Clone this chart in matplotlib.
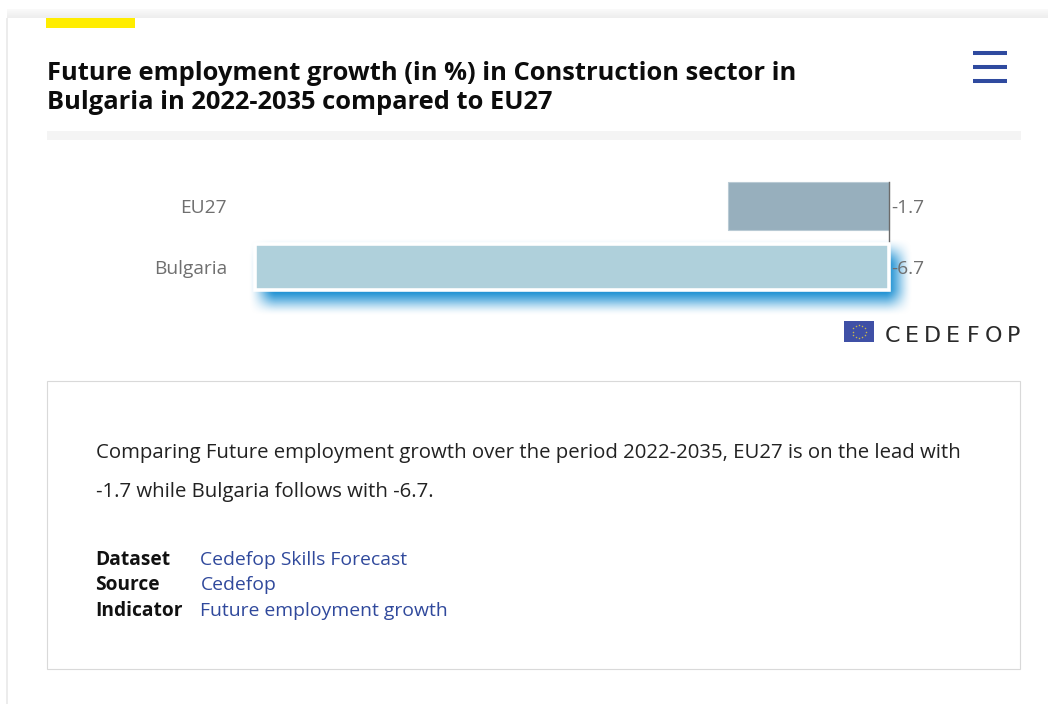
import numpy as np
import matplotlib
matplotlib.use("Agg")
import matplotlib.pyplot as plt
from matplotlib.patches import Rectangle

plt.rcParams['font.family'] = ['Open Sans', 'DejaVu Sans']

countries = ['EU27', 'Bulgaria']
growth = [-1.7, -6.7]
bar_colors = ['#97afbd', '#afd0db']
title_lines = ['Future employment growth (in %) in Construction sector in',
               'Bulgaria in 2022-2035 compared to EU27']
summary_lines = ['Comparing Future employment growth over the period 2022-2035, EU27 is on the lead with',
                 '-1.7 while Bulgaria follows with -6.7.']
meta_keys = ['Dataset', 'Source', 'Indicator']
meta_values = ['Cedefop Skills Forecast', 'Cedefop', 'Future employment growth']
wordmark = 'CEDEFOP'

W, H = 1048, 704
X0, PX_PER_UNIT = 889, 94.6
Y0, ROW = 206, 61

fig = plt.figure(figsize=(W / 100, H / 100), dpi=100, facecolor='white')

# page furniture, in pixels from the top left
page = fig.add_axes([0, 0, 1, 1], zorder=1)
page.set_xlim(0, W)
page.set_ylim(H, 0)
page.axis('off')

def box(x0, y0, x1, y1, **kw):
    page.add_patch(Rectangle((x0, y0), x1 - x0, y1 - y0, linewidth=kw.pop('linewidth', 0), **kw))

band = np.linspace(0.975, 0.93, 9)[:, None]
page.imshow(band, cmap='gray', vmin=0, vmax=1, extent=(7, W, 18, 9), aspect='auto', zorder=1)
page.set_xlim(0, W)
page.set_ylim(H, 0)
box(6, 18, 8, H, facecolor='#ececec')
box(46, 18, 135, 28, facecolor='#ffed00')
box(47, 131, 1021, 140, facecolor='#f4f4f4')
box(47, 380.5, 1020, 669, facecolor='none', edgecolor='#d9d9d9', linewidth=0.8)

for y in [53, 67, 81]:
    page.plot([973, 1007], [y, y], color='#2f4a9f', lw=2.9, solid_capstyle='butt')

for i, line in enumerate(title_lines):
    page.text(47, 73.5 + i * 28.7, line, fontsize=18.33, fontweight='bold', color='#0c0c0c', va='center')

for i, line in enumerate(summary_lines):
    page.text(96, 453 + i * 39, line, fontsize=14.67, color='#222222', va='center')

for i, (k, v) in enumerate(zip(meta_keys, meta_values)):
    page.text(95.5, 560 + i * 25.5, k, fontsize=13.8, fontweight='bold', color='#111111', va='center')
    page.text(200.5, 560 + i * 25.5, v, fontsize=13.95, color='#30499c', va='center')

# EU flag and wordmark
box(844, 321, 874, 342, facecolor='#3f50a6')
angles = np.arange(12) * np.pi / 6
page.scatter(859 + 6.5 * np.cos(angles), 331.5 + 6.5 * np.sin(angles), s=1.2, color='#c9b84a', linewidths=0)
for i, letter in enumerate(wordmark):
    page.text(892 + i * 20.3, 335.5, letter, fontsize=16, family=['DejaVu Sans'],
              color='#2a2a2a', va='center', ha='center')

# bar chart, scales set so the zero line and the rows land where they should
ax = fig.add_axes([0, 0, 1, 1], zorder=2)
ax.patch.set_alpha(0)
ax.set_xlim(-X0 / PX_PER_UNIT, (W - X0) / PX_PER_UNIT)
ax.set_ylim((H - Y0) / ROW, -Y0 / ROW)
ax.axis('off')

ypos = np.arange(len(countries))
bars = ax.barh(ypos, growth, height=[0.79, 0.75], color=bar_colors, zorder=3)
bars[0].set_edgecolor('#b9cad4')
bars[0].set_linewidth(0.8)

# highlighted row: white outline plus a blurred blue shadow behind it
hl = bars[1]
hl.set_edgecolor('white')
hl.set_linewidth(2.6)
hl.set_zorder(4)
x_left = ax.transData.transform((growth[1], 0))[0]
x_right = ax.transData.transform((0, 0))[0]

xx = np.arange(W) + 0.5
yy = np.arange(H) + 0.5

def soft_edge(v, a, b, s):
    # box profile smoothed over s pixels
    return np.clip((v - a) / s + 0.5, 0, 1) * np.clip((b - v) / s + 0.5, 0, 1)

def smooth(t):
    return t * t * (3 - 2 * t)

glow = smooth(soft_edge(xx, x_left + 7, x_right + 10, 28))[None, :] * smooth(soft_edge(yy, 252, 302, 28))[:, None]
rgba = np.zeros((H, W, 4))
rgba[..., 0], rgba[..., 1], rgba[..., 2] = 0.08, 0.55, 0.82
rgba[..., 3] = glow
ax.imshow(rgba, extent=ax.get_xlim() + ax.get_ylim(), aspect='auto', zorder=2, interpolation='bilinear')

ax.plot([0, 0], [-0.39, 0.6], color='#6b6b6b', lw=1, zorder=3.5)

for y, name, val in zip(ypos, countries, growth):
    ax.annotate(name, (growth[1], y), xytext=(227, Y0 + 2 + y * ROW), textcoords=page.transData,
                ha='right', va='center', fontsize=13.8, color='#6f6f6f', zorder=5)
    ax.annotate(f'{val}', (0, y), xytext=(891.5, Y0 + 2 + y * ROW), textcoords=page.transData,
                ha='left', va='center', fontsize=13.8, color='#6f6f6f', zorder=5)

fig.savefig('out.png', dpi=100)
